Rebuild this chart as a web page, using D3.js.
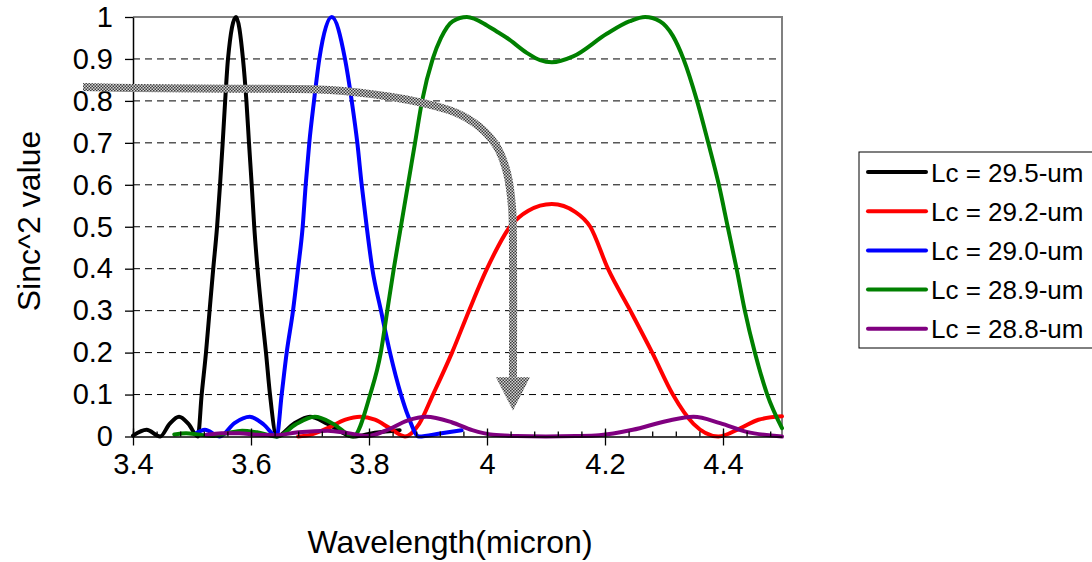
<!DOCTYPE html>
<html>
<head>
<meta charset="utf-8">
<title>Sinc^2 value vs wavelength</title>
<script src="https://d3js.org/d3.v7.min.js"></script>
<style>
    body { margin: 0; background: #fff; }
    svg { font-family: "Liberation Sans", Arial, sans-serif; }
    .grid line { stroke: #000; stroke-dasharray: 7,5; }
</style>
</head>
<body>
<svg id="chart" width="1092" height="562"></svg>
<script>
// series names (legend order)
const seriesNames = ["Lc = 29.5-um", "Lc = 29.2-um", "Lc = 29.0-um", "Lc = 28.9-um", "Lc = 28.8-um"];
const seriesColors = ["#000000", "#ff0000", "#0000ff", "#008000", "#800080"];

// [wavelength (micron), sinc^2 value]
const lc295 = [[3.400,0.002],[3.423,0.016],[3.446,0.000],[3.462,0.030],[3.478,0.047],[3.494,0.030],[3.510,0.000],
    [3.5164,0.1],[3.5237,0.2],[3.5298,0.3],[3.536,0.4],[3.5425,0.5],[3.5475,0.6],[3.552,0.7],[3.5562,0.8],[3.561,0.9],
    [3.5746,1.0],[3.5864,0.9],[3.5922,0.8],[3.5966,0.7],[3.6012,0.6],[3.6055,0.5],[3.611,0.4],[3.6178,0.3],[3.6254,0.2],
    [3.6322,0.1],[3.6436,0.0],[3.672,0.030],[3.700,0.047],[3.730,0.030],[3.773,0.000],[3.810,0.009],[3.852,0.015]];

const lc292 = [[3.680,0.000],[3.700,0.004],[3.730,0.020],[3.760,0.040],[3.785,0.047],[3.810,0.040],[3.835,0.020],
    [3.861,0.000],[3.885,0.030],[3.9085,0.1],[3.9407,0.2],[3.9695,0.3],[4.000,0.4],[4.039,0.5],[4.070,0.538],
    [4.110,0.554],[4.150,0.535],[4.175,0.5],[4.205,0.4],[4.243,0.3],[4.280,0.2],[4.315,0.1],[4.350,0.030],
    [4.392,0.000],[4.430,0.020],[4.460,0.040],[4.500,0.048]];

const lc290 = [[3.505,0.006],[3.522,0.016],[3.547,0.000],[3.572,0.032],[3.598,0.047],[3.622,0.028],[3.6436,0.0],
    [3.652,0.1],[3.6605,0.2],[3.6712,0.3],[3.6797,0.4],[3.6876,0.5],[3.6927,0.6],[3.6988,0.7],[3.7068,0.8],[3.7158,0.9],
    [3.7368,1.0],[3.7593,0.9],[3.7707,0.8],[3.7802,0.7],[3.7876,0.6],[3.7961,0.5],[3.8056,0.4],[3.8203,0.3],
    [3.8356,0.2],[3.8542,0.1],[3.866,0.05],[3.8847,0.0],[3.920,0.007],[3.957,0.015]];

const lc289 = [[3.470,0.005],[3.490,0.008],[3.510,0.005],[3.535,0.001],[3.560,0.008],[3.585,0.014],[3.610,0.010],
    [3.645,0.000],[3.675,0.028],[3.708,0.047],[3.740,0.030],[3.773,0.000],[3.802,0.1],[3.820,0.2],[3.831,0.3],
    [3.842,0.4],[3.854,0.5],[3.866,0.6],[3.878,0.7],[3.890,0.8],[3.908,0.9],[3.922,0.95],[3.942,0.99],[3.966,1.0],
    [4.000,0.98],[4.017,0.965],[4.034,0.95],[4.068,0.914],[4.090,0.897],[4.110,0.892],[4.146,0.906],[4.203,0.96],
    [4.242,0.99],[4.268,1.0],[4.293,0.99],[4.315,0.955],[4.333,0.9],[4.356,0.8],[4.375,0.7],[4.393,0.6],[4.408,0.5],
    [4.423,0.4],[4.437,0.3],[4.454,0.2],[4.475,0.1],[4.500,0.02]];

const lc288 = [[3.525,0.004],[3.550,0.008],[3.580,0.008],[3.610,0.004],[3.640,0.003],[3.680,0.010],[3.730,0.014],
    [3.765,0.008],[3.797,0.001],[3.830,0.015],[3.865,0.038],[3.897,0.047],[3.940,0.034],[3.975,0.015],[4.010,0.004],
    [4.050,0.001],[4.100,0.000],[4.150,0.001],[4.190,0.003],[4.247,0.016],[4.305,0.037],[4.350,0.047],[4.395,0.032],
    [4.440,0.011],[4.500,0.000]];

const series = [lc295, lc292, lc290, lc289, lc288];

// arrow annotation path, data coordinates
const arrowPath = [[3.3153,0.833],[3.400,0.8305],[3.5644,0.829],[3.7339,0.826],[3.8356,0.81],[3.8915,0.795],
    [3.9492,0.771],[3.988,0.737],[4.017,0.69],[4.034,0.628],[4.0424,0.547],[4.044,0.468],[4.044,0.141]];
const arrowTip = [4.044, 0.062];

const xTicks = [3.4, 3.6, 3.8, 4.0, 4.2, 4.4];
const xTickLabels = ["3.4", "3.6", "3.8", "4", "4.2", "4.4"];
const xMinor = d3.range(0, 28).map(i => 3.4 + i * 0.04);
const yTicks = [0, 0.1, 0.2, 0.3, 0.4, 0.5, 0.6, 0.7, 0.8, 0.9, 1];
const yTickLabels = ["0", "0.1", "0.2", "0.3", "0.4", "0.5", "0.6", "0.7", "0.8", "0.9", "1"];

const svg = d3.select("#chart");
const L = 133, R = 782, T = 17, B = 436.5;

const x = d3.scaleLinear([3.4, 4.5], [L, R]);
const y = d3.scaleLinear([0, 1], [B, T]);

// checkered fill for the arrow
const pat = svg.append("defs").append("pattern")
    .attr("id", "checker").attr("width", 3).attr("height", 3)
    .attr("patternUnits", "userSpaceOnUse");
pat.append("rect").attr("width", 3).attr("height", 3).attr("fill", "#d4d4d4");
pat.append("rect").attr("width", 1.5).attr("height", 1.5).attr("fill", "#3c3c3c");
pat.append("rect").attr("x", 1.5).attr("y", 1.5).attr("width", 1.5).attr("height", 1.5).attr("fill", "#3c3c3c");

// gridlines
svg.append("g").attr("class", "grid")
    .selectAll("line").data(yTicks.slice(1, -1)).enter()
    .append("line")
    .attr("x1", L).attr("x2", R)
    .attr("y1", d => y(d)).attr("y2", d => y(d));

// plot frame (top, right)
svg.append("path")
    .attr("d", `M${L},${T}H${R}V${B}`)
    .attr("fill", "none").attr("stroke", "#808080").attr("stroke-width", 2);

// curves
const line = d3.line().x(d => x(d[0])).y(d => y(d[1])).curve(d3.curveMonotoneX);
svg.append("g").selectAll("path").data(series).enter()
    .append("path")
    .attr("d", line)
    .attr("fill", "none")
    .attr("stroke", (d, i) => seriesColors[i])
    .attr("stroke-width", 4)
    .attr("stroke-linejoin", "round")
    .attr("stroke-linecap", "round");

// axes
const yAxis = d3.axisLeft(y).tickValues(yTicks).tickFormat((d, i) => yTickLabels[i])
    .tickSizeInner(8).tickSizeOuter(0).tickPadding(12);
const gy = svg.append("g").attr("transform", `translate(${L},0)`).call(yAxis);

const xAxis = d3.axisBottom(x).tickValues(xTicks).tickFormat((d, i) => xTickLabels[i])
    .tickSizeInner(9).tickSizeOuter(0).tickPadding(8);
const gx = svg.append("g").attr("transform", `translate(0,${B})`).call(xAxis);

svg.append("g").attr("transform", `translate(0,${B})`)
    .call(d3.axisTop(x).tickValues(xMinor).tickFormat("").tickSizeInner(5).tickSizeOuter(0))
    .call(g => g.select(".domain").remove());
svg.append("g").attr("transform", `translate(0,${B})`)
    .call(d3.axisTop(x).tickValues(xTicks).tickFormat("").tickSizeInner(8).tickSizeOuter(0))
    .call(g => g.select(".domain").remove());

svg.selectAll(".tick line").attr("stroke", "#000").attr("stroke-width", 1.3);
gx.select(".domain").attr("stroke", "#000").attr("stroke-width", 1.5);
gy.select(".domain").attr("stroke", "#000").attr("stroke-width", 1.5);
svg.selectAll(".tick text").attr("font-size", 29).attr("fill", "#000")
    .attr("font-family", "Liberation Sans, Arial, sans-serif");

// arrow annotation
svg.append("path")
    .attr("d", d3.line().x(d => x(d[0])).y(d => y(d[1])).curve(d3.curveCatmullRom)(arrowPath))
    .attr("fill", "none")
    .attr("stroke", "url(#checker)")
    .attr("stroke-width", 8);
const base = arrowPath[arrowPath.length - 1];
svg.append("path")
    .attr("d", `M${x(base[0]) - 17},${y(base[1])}L${x(base[0]) + 17},${y(base[1])}L${x(arrowTip[0])},${y(arrowTip[1])}Z`)
    .attr("fill", "url(#checker)");

// axis titles
svg.append("text")
    .attr("x", 450).attr("y", 553)
    .attr("text-anchor", "middle").attr("font-size", 32)
    .text("Wavelength(micron)");
svg.append("text")
    .attr("transform", "translate(40,221) rotate(-90)")
    .attr("text-anchor", "middle").attr("font-size", 32)
    .text("Sinc^2 value");

// legend
const lg = svg.append("g").attr("transform", "translate(859,152)");
lg.append("rect")
    .attr("width", 250).attr("height", 196)
    .attr("fill", "#fff").attr("stroke", "#000").attr("stroke-width", 1);
const row = lg.selectAll("g.row").data(seriesNames).enter()
    .append("g").attr("class", "row")
    .attr("transform", (d, i) => `translate(0,${20 + i * 39.2})`);
row.append("line")
    .attr("x1", 9).attr("x2", 67)
    .attr("stroke", (d, i) => seriesColors[i])
    .attr("stroke-width", 4).attr("stroke-linecap", "round");
row.append("text")
    .attr("x", 72).attr("y", 9.5)
    .attr("font-size", 26)
    .text(d => d);
</script>
</body>
</html>
